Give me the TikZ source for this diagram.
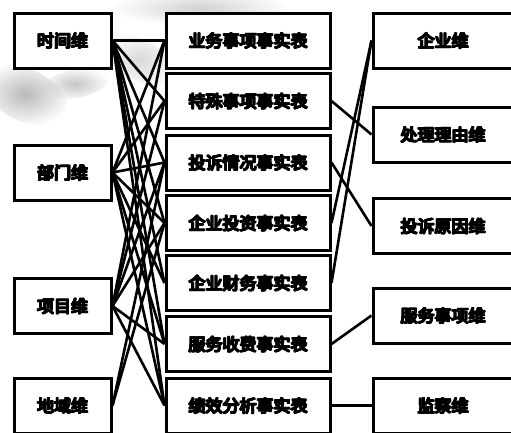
\documentclass[tikz,border=0pt]{standalone}
\usepackage{fontspec}
\usetikzlibrary{fadings}
\newfontfamily\cjk[FakeBold=3]{Noto Sans CJK SC}
\newcommand\hv[1]{\rlap{#1}\rlap{\kern1pt#1}\rlap{\raisebox{0.8pt}{#1}}\rlap{\kern1pt\raisebox{0.8pt}{#1}}\rlap{\kern0.5pt\raisebox{0.4pt}{#1}}\phantom{#1}\kern1pt}
\tikzfading[name=softedge, inner color=transparent!0, outer color=transparent!100]
\begin{document}
\begin{tikzpicture}[x=1pt,y=-1pt,
  box/.style={draw=black,line width=3pt,fill=white,inner sep=0pt,minimum height=55pt,font=\cjk\fontsize{17}{19}\selectfont},
  lbox/.style={box,minimum width=97pt},
  mbox/.style={box,minimum width=164pt},
  rbox/.style={box,minimum width=140pt},
  link/.style={line width=2.6pt,black},
  haze/.style={path fading=softedge}]
\useasboundingbox (0,0) rectangle (511,432);
\clip (0,0) rectangle (511,432);
\fill[white] (0,0) rectangle (511,432);
% faint background swirl
\fill[gray!55,haze,rotate around={-25:(25,95)}] (25,95) ellipse [x radius=45pt,y radius=26pt];
\fill[gray!45,haze,rotate around={10:(75,84)}] (75,84) ellipse [x radius=34pt,y radius=14pt];
\fill[gray!35,haze] (200,8) ellipse [x radius=90pt,y radius=18pt];
\fill[gray!30,haze,rotate around={-30:(140,60)}] (140,60) ellipse [x radius=40pt,y radius=20pt];
% left column
\node[lbox] (L1) at (62.5,40.5) {\hv{时间维}};
\node[lbox] (L2) at (62.5,172.5) {\hv{部门维}};
\node[lbox] (L3) at (62.5,306) {\hv{项目维}};
\node[lbox] (L4) at (62.5,405.5) {\hv{地域维}};
% middle column
\node[mbox] (M1) at (248,40.5) {\hv{业务事项事实表}};
\node[mbox] (M2) at (248,101) {\hv{特殊事项事实表}};
\node[mbox] (M3) at (248,162.5) {\hv{投诉情况事实表}};
\node[mbox] (M4) at (248,223) {\hv{企业投资事实表}};
\node[mbox] (M5) at (248,283) {\hv{企业财务事实表}};
\node[mbox] (M6) at (248,344) {\hv{服务收费事实表}};
\node[mbox] (M7) at (248,405.5) {\hv{绩效分析事实表}};
% right column
\node[rbox] (R1) at (443,40.5) {\hv{企业维}};
\node[rbox] (R2) at (443,134.5) {\hv{处理理由维}};
\node[rbox] (R3) at (443,226) {\hv{投诉原因维}};
\node[rbox] (R4) at (443,315.5) {\hv{服务事项维}};
\node[rbox] (R5) at (443,405.5) {\hv{监察维}};
% left connectors
\foreach \m in {1,...,7} {\draw[link] (L1.east) -- (M\m.west);}
\foreach \m in {1,2,3,4,5,6,7} {\draw[link] (L2.east) -- (M\m.west);}
\foreach \m in {1,2,3,4,6,7} {\draw[link] (L3.east) -- (M\m.west);}
\foreach \m in {3,4} {\draw[link] (L4.east) -- (M\m.west);}
% right connectors
\draw[link] (R1.west) -- (M4.east);
\draw[link] (R1.west) -- (M5.east);
\draw[link] (M2.east) -- (R2.west);
\draw[link] (M3.east) -- (R3.west);
\draw[link] (M6.east) -- (R4.west);
\draw[link] (M7.east) -- (R5.west);
\end{tikzpicture}
\end{document}
